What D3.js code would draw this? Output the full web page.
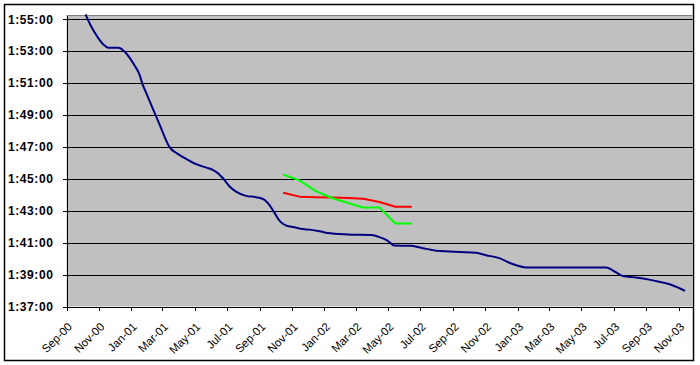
<!DOCTYPE html>
<html><head><meta charset="utf-8">
<script src="https://cdn.jsdelivr.net/npm/d3@7"></script>
<style>
html,body{margin:0;padding:0;background:#fff;}
svg{display:block;font-family:"Liberation Sans",Arial,sans-serif;}
</style>
</head><body>
<svg id="c" width="700" height="365"></svg>
<script>
// ---- data ----
const blueDates = ["2000-10-07","2000-10-16","2000-10-29","2000-11-09","2000-11-19","2000-12-08","2000-12-20","2000-12-30",
  "2001-01-07","2001-01-17","2001-01-23","2001-01-31","2001-02-08","2001-02-16","2001-02-24","2001-03-05","2001-03-14","2001-03-30",
  "2001-04-15","2001-05-04","2001-05-23","2001-06-04","2001-06-14","2001-06-23","2001-07-06","2001-07-18","2001-08-06","2001-08-25",
  "2001-09-10","2001-09-19","2001-09-29","2001-10-08","2001-10-21","2001-11-05","2001-11-21","2001-12-04","2001-12-23",
  "2002-01-07","2002-02-14","2002-03-31","2002-04-15","2002-04-30","2002-05-13","2002-06-14","2002-07-06","2002-07-31","2002-08-25",
  "2002-09-13","2002-10-14","2002-11-02","2002-11-27","2002-12-22","2003-01-17","2003-06-17","2003-07-05","2003-07-18","2003-08-12",
  "2003-09-06","2003-09-25","2003-10-20","2003-11-13"];
const blueTimes = ["1:55:18","1:54:39","1:53:55","1:53:26","1:53:13","1:53:13","1:52:58","1:52:33",
  "1:52:08","1:51:31","1:50:53","1:50:16","1:49:38","1:49:00","1:48:23","1:47:39","1:47:01","1:46:34",
  "1:46:15","1:45:55","1:45:42","1:45:34","1:45:21","1:45:03","1:44:31","1:44:12","1:43:56","1:43:51",
  "1:43:41","1:43:22","1:42:51","1:42:23","1:42:04","1:41:58","1:41:51","1:41:49","1:41:43",
  "1:41:36","1:41:31","1:41:29","1:41:21","1:41:08","1:40:49","1:40:48","1:40:39","1:40:30","1:40:27",
  "1:40:25","1:40:22","1:40:13","1:40:02","1:39:40","1:39:27","1:39:27","1:39:09","1:38:55","1:38:49",
  "1:38:41","1:38:33","1:38:20","1:37:59"];
const rgDates = ["2001-10-15","2001-11-15","2001-12-15","2002-01-15","2002-02-15","2002-03-15","2002-04-15","2002-05-15","2002-06-15"];
const redTimes = ["1:44:08","1:43:53","1:43:51","1:43:50","1:43:48","1:43:45","1:43:33","1:43:15","1:43:15"];
const greenTimes = ["1:45:16","1:44:54","1:44:15","1:43:48","1:43:29","1:43:12","1:43:12","1:42:12","1:42:12"];
const xTickLabels = ["Sep-00","Nov-00","Jan-01","Mar-01","May-01","Jul-01","Sep-01","Nov-01","Jan-02","Mar-02",
  "May-02","Jul-02","Sep-02","Nov-02","Jan-03","Mar-03","May-03","Jul-03","Sep-03","Nov-03"];
const yTickLabels = ["1:37:00","1:39:00","1:41:00","1:43:00","1:45:00","1:47:00","1:49:00","1:51:00","1:53:00","1:55:00"];
const xDomain = ["2000-09-01","2003-11-27"];
const yDomain = ["1:37:00","1:55:14"];

// ---- helpers ----
const toSec = s => { const p = s.split(":").map(Number); return p[0]*3600 + p[1]*60 + p[2]; };
const pd = d3.utcParse("%Y-%m-%d");
const pm = d3.utcParse("%b-%y");

const svg = d3.select("#c");
const L = 66.5, R = 692.5, T = 15.5, B = 306.5;

const x = d3.scaleUtc().domain(xDomain.map(pd)).range([L, R]);
const y = d3.scaleLinear().domain(yDomain.map(toSec)).range([B, T]);

// outer border
svg.append("rect").attr("x",4.5).attr("y",4.5).attr("width",689).attr("height",356)
  .attr("fill","#fff").attr("stroke","#000").attr("stroke-width",1.5);

// plot area
svg.append("rect").attr("x",L).attr("y",T).attr("width",R-L).attr("height",B-T).attr("fill","#C0C0C0");
svg.append("line").attr("x1",L).attr("x2",R).attr("y1",T).attr("y2",T).attr("stroke","#808080").attr("stroke-width",1);

// gridlines
const yVals = yTickLabels.map(toSec);
svg.append("g").selectAll("line").data(yVals).join("line")
  .attr("x1",L).attr("x2",R)
  .attr("y1",d=>Math.round(y(d))+0.5).attr("y2",d=>Math.round(y(d))+0.5)
  .attr("stroke","#000").attr("stroke-width",1).attr("shape-rendering","crispEdges");

// axes
const yAxis = d3.axisLeft(y).tickValues(yVals).tickFormat((d,i)=>yTickLabels[i]).tickSize(4).tickSizeOuter(0).tickPadding(9);
const gy = svg.append("g").attr("transform",`translate(${L},0)`).call(yAxis);
gy.selectAll("text").attr("font-size",12).attr("font-weight","bold").attr("letter-spacing","0.6px")
  .attr("font-family","'Liberation Sans',Arial,sans-serif").attr("fill","#000");
gy.selectAll("line,path").attr("stroke","#000").attr("shape-rendering","crispEdges");

const xVals = xTickLabels.map(pm);
const xAxis = d3.axisBottom(x).tickValues(xVals).tickFormat((d,i)=>xTickLabels[i]).tickSize(4).tickSizeOuter(0);
const gx = svg.append("g").attr("transform",`translate(0,${B})`).call(xAxis);
gx.selectAll("line,path").attr("stroke","#000").attr("shape-rendering","crispEdges");
gx.selectAll("text")
  .attr("font-size",11.5).attr("font-family","'Liberation Sans',Arial,sans-serif").attr("fill","#000")
  .attr("text-anchor","end").attr("y",0).attr("dy","0.35em")
  .attr("transform","translate(3,18) rotate(-45)");

// lines
const smooth = d3.line().x(d=>x(d[0])).y(d=>y(d[1])).curve(d3.curveMonotoneX);
const straight = d3.line().x(d=>x(d[0])).y(d=>y(d[1])).curve(d3.curveLinear);
const series = [
  {dates: blueDates, times: blueTimes, color: "#000080", gen: smooth},
  {dates: rgDates, times: redTimes, color: "#FF0000", gen: straight},
  {dates: rgDates, times: greenTimes, color: "#00FF00", gen: straight}
];
series.forEach(s => {
  const pts = s.dates.map((d,i)=>[pd(d), toSec(s.times[i])]);
  svg.append("path").datum(pts).attr("d", s.gen)
    .attr("fill","none").attr("stroke", s.color).attr("stroke-width",2).attr("stroke-linejoin","round");
});
</script>
</body></html>
